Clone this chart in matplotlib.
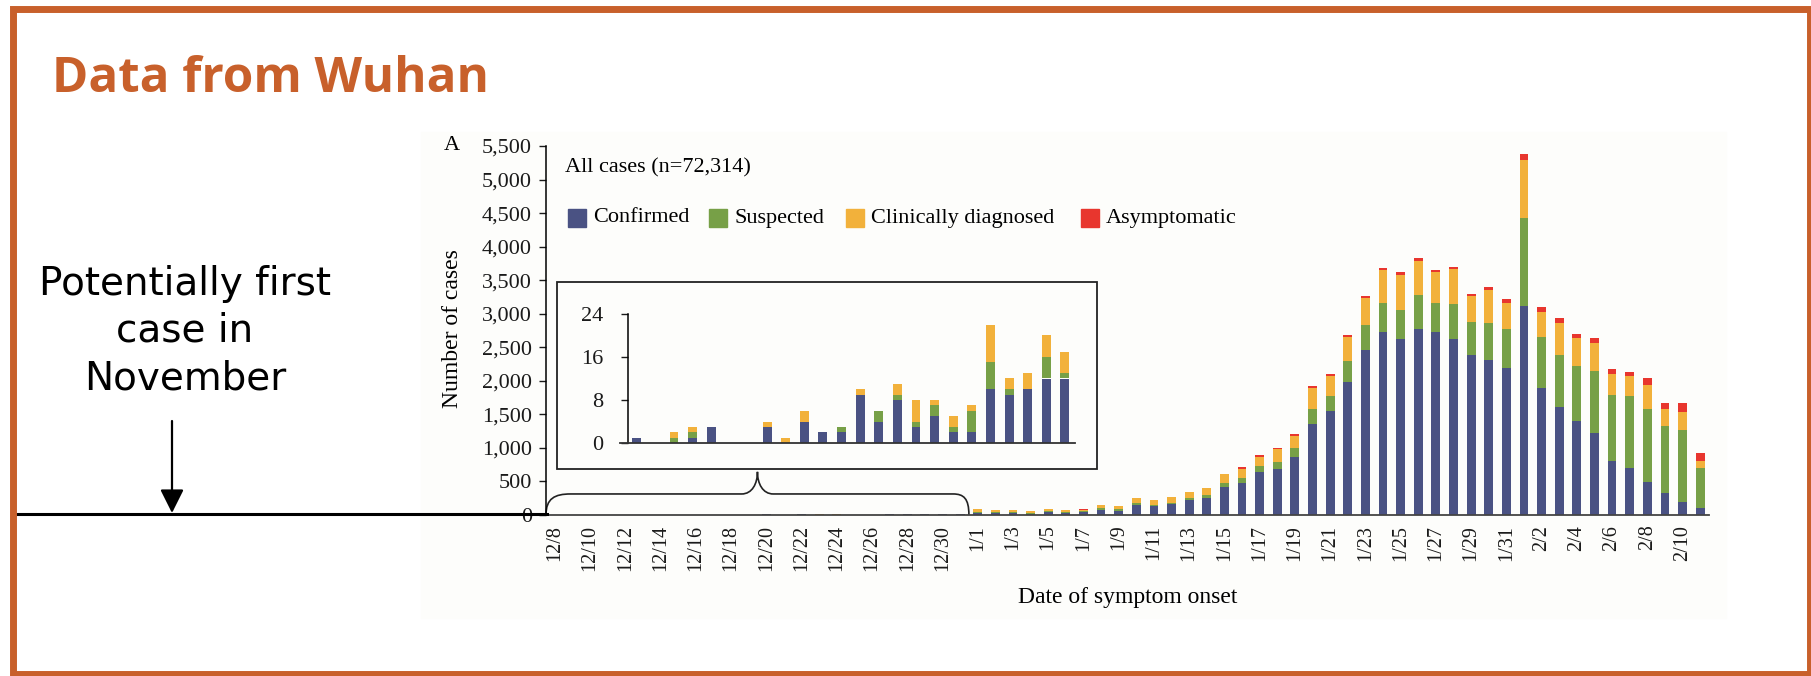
import numpy as np
import pandas as pd
import matplotlib
matplotlib.use("Agg")
import matplotlib.pyplot as plt
from matplotlib.patches import Rectangle, PathPatch, FancyArrowPatch
from matplotlib.path import Path
from matplotlib.lines import Line2D
from matplotlib.ticker import FuncFormatter
import matplotlib.transforms as mtransforms

# dates of symptom onset, 12/8 .. 2/11
dates = pd.date_range("2019-12-08", "2020-02-11")
date_labels = [f"{d.month}/{d.day}" for d in dates]

# December (12/8 .. 12/31), also shown in the inset
dec_confirmed = [1, 0, 0, 1, 3, 0, 0, 3, 0, 4, 2, 2, 9, 4, 8, 3, 5, 2, 2, 10, 9, 10, 12, 12]
dec_suspected = [0, 0, 1, 1, 0, 0, 0, 0, 0, 0, 0, 1, 0, 2, 1, 1, 2, 1, 4, 5, 1, 0, 4, 1]
dec_clinical = [0, 0, 1, 1, 0, 0, 0, 1, 1, 2, 0, 0, 1, 0, 2, 4, 1, 2, 1, 7, 2, 3, 4, 4]
dec_asymptomatic = [0] * 24

# January / February (1/1 .. 2/11)
jf_confirmed = [35, 30, 30, 15, 40, 30, 40, 80, 65, 149,
                139, 169, 224, 249, 420, 480, 636, 681, 869, 1351,
                1545, 1982, 2454, 2732, 2628, 2767, 2722, 2628, 2380, 2310, 2196,
                3115, 1888, 1610, 1406, 1222, 805, 705, 497, 328, 199, 100]
jf_suspected = [15, 10, 15, 10, 15, 10, 15, 20, 20, 25,
                15, 15, 29, 44, 55, 65, 99, 109, 130, 229,
                223, 308, 373, 432, 422, 512, 432, 512, 491, 551, 576,
                1311, 770, 779, 820, 924, 978, 1063, 1083, 999, 1064, 600]
jf_clinical = [39, 35, 30, 30, 39, 30, 20, 49, 44, 79,
               70, 80, 90, 105, 130, 135, 130, 199, 183, 313,
               299, 363, 402, 482, 532, 506, 463, 521, 388, 487, 392,
               870, 372, 472, 407, 412, 313, 299, 362, 259, 273, 100]
jf_asymptomatic = [0, 0, 0, 0, 0, 0, 18, 0, 0, 5,
                   3, 3, 5, 3, 5, 30, 25, 5, 30, 30,
                   30, 30, 40, 35, 40, 45, 35, 40, 35, 45, 60,
                   85, 65, 70, 65, 85, 75, 70, 100, 90, 130, 120]

series_names = ["Confirmed", "Suspected", "Clinically diagnosed", "Asymptomatic"]
colors = ["#4a5283", "#77a047", "#f2b13b", "#e8362e"]
orange = "#c8602b"

main = [np.array(dec_confirmed + jf_confirmed), np.array(dec_suspected + jf_suspected),
        np.array(dec_clinical + jf_clinical), np.array(dec_asymptomatic + jf_asymptomatic)]
inset = [np.array(dec_confirmed), np.array(dec_suspected),
         np.array(dec_clinical), np.array(dec_asymptomatic)]

W, H = 1811, 676
fig = plt.figure(figsize=(W / 100, H / 100), dpi=100)
fig.patch.set_facecolor("white")
serif = "Liberation Serif"


def fx(x):
    return x / W


def fy(y):
    return 1 - y / H


# pasted figure background + slide frame
fig.patches.append(Rectangle((fx(421), fy(618)), (1726 - 421) / W, (618 - 132) / H,
                             transform=fig.transFigure, color="#fdfdfb", zorder=-5))
fig.patches.append(Rectangle((fx(13), fy(674)), (1809.5 - 13) / W, (674 - 9) / H,
                             transform=fig.transFigure, fill=False, edgecolor=orange,
                             lw=5, zorder=5))

fig.text(fx(52), fy(92), "Data from Wuhan", ha="left", va="baseline", fontsize=35.5,
         weight="bold", family="Open Sans", color=orange)

# main chart
ax = fig.add_axes([fx(546), fy(515), 1163 / W, 369 / H])
ax.patch.set_alpha(0)
x = np.arange(len(date_labels))
bottom = np.zeros(len(x))
for vals, c in zip(main, colors):
    ax.bar(x, vals, 0.5, bottom=bottom, color=c, lw=0)
    bottom += vals
ax.set_xlim(-0.5, 65.5)
ax.set_ylim(0, 5500)
ax.set_yticks(np.arange(0, 5501, 500))
ax.yaxis.set_major_formatter(FuncFormatter(lambda v, p: f"{v:,.0f}"))
ax.set_xticks(x[::2])
ax.set_xticklabels(date_labels[::2], rotation=90, family=serif, fontsize=14.5)
for lab in ax.get_yticklabels():
    lab.set_family(serif)
ax.tick_params(axis="y", length=5, width=1, pad=5, labelsize=16, colors="#1a1a1a")
ax.tick_params(axis="x", length=0, pad=7, colors="#1a1a1a")
ax.spines[["top", "right"]].set_visible(False)
ax.spines["left"].set_linewidth(1.1)
ax.spines["bottom"].set_linewidth(1.3)
ax.spines["bottom"].set_color("#444444")

fig.text(fx(452), fy(329), "Number of cases", rotation=90, ha="center", va="center",
         family=serif, fontsize=17)
fig.text(fx(1128), fy(598), "Date of symptom onset", ha="center", va="center",
         family=serif, fontsize=17)
fig.text(fx(452), fy(146), "A", ha="center", va="center", family=serif, fontsize=16)
fig.text(fx(565), fy(168), "All cases (n=72,314)", ha="left", va="center",
         family=serif, fontsize=16)

# legend
square_x = [568, 709, 846, 1081]
for name, c, sx in zip(series_names, colors, square_x):
    fig.patches.append(Rectangle((fx(sx), fy(227)), 18 / W, 18 / H,
                                 transform=fig.transFigure, color=c))
    fig.text(fx(sx + 25), fy(218), name, ha="left", va="center", family=serif, fontsize=16)

# brace over December
tr = mtransforms.blended_transform_factory(ax.transData, ax.transAxes)
verts = [(-0.5, 0), (-0.5, 0.045), (0.0, 0.057), (0.9, 0.057),
         (10.6, 0.057),
         (11.2, 0.057), (11.5, 0.085), (11.5, 0.117),
         (11.5, 0.085), (11.8, 0.057), (12.4, 0.057),
         (22.6, 0.057),
         (23.2, 0.057), (23.5, 0.045), (23.5, 0)]
codes = [Path.MOVETO, Path.CURVE4, Path.CURVE4, Path.CURVE4, Path.LINETO,
         Path.CURVE4, Path.CURVE4, Path.CURVE4, Path.CURVE4, Path.CURVE4, Path.CURVE4,
         Path.LINETO, Path.CURVE4, Path.CURVE4, Path.CURVE4]
ax.add_patch(PathPatch(Path(verts, codes), transform=tr, fill=False, lw=1.2,
                       edgecolor="#222222", clip_on=False))

# inset frame and inset chart
fig.patches.append(Rectangle((fx(557), fy(469)), 540 / W, 187 / H, transform=fig.transFigure,
                             fill=False, edgecolor="#222222", lw=1.3))
axin = fig.add_axes([fx(620), fy(443), 455 / W, 129 / H])
axin.patch.set_alpha(0)
xi = np.arange(len(inset[0]))
bottom = np.zeros(len(xi))
for vals, c in zip(inset, colors):
    axin.bar(xi, vals, 0.48, bottom=bottom, color=c, lw=0)
    bottom += vals
axin.set_xlim(-0.9, 23.54)
axin.set_ylim(0, 24)
axin.set_yticks([0, 8, 16, 24])
axin.set_xticks([])
axin.spines[["top", "right"]].set_visible(False)
axin.spines["left"].set_position(("data", -0.45))
axin.spines["left"].set_linewidth(1.1)
axin.spines["bottom"].set_linewidth(1.3)
axin.spines["bottom"].set_color("#333333")
axin.tick_params(axis="y", length=5, width=1, pad=13, labelsize=16, colors="#1a1a1a")
for lab in axin.get_yticklabels():
    lab.set_family(serif)

# "first case" annotation
fig.add_artist(Line2D([fx(17), fx(547)], [fy(514), fy(514)], lw=2.2, color="black"))
fig.add_artist(FancyArrowPatch((fx(172), fy(421)), (fx(172), fy(513)),
                               transform=fig.transFigure,
                               arrowstyle="-|>,head_length=0.8,head_width=0.4",
                               mutation_scale=18, lw=1.6, color="black",
                               shrinkA=0, shrinkB=0))
fig.text(fx(185), fy(331), "Potentially first\ncase in\nNovember", ha="center", va="center",
         fontsize=28, family="DejaVu Sans", linespacing=1.3)

fig.savefig("out.png", dpi=100)
